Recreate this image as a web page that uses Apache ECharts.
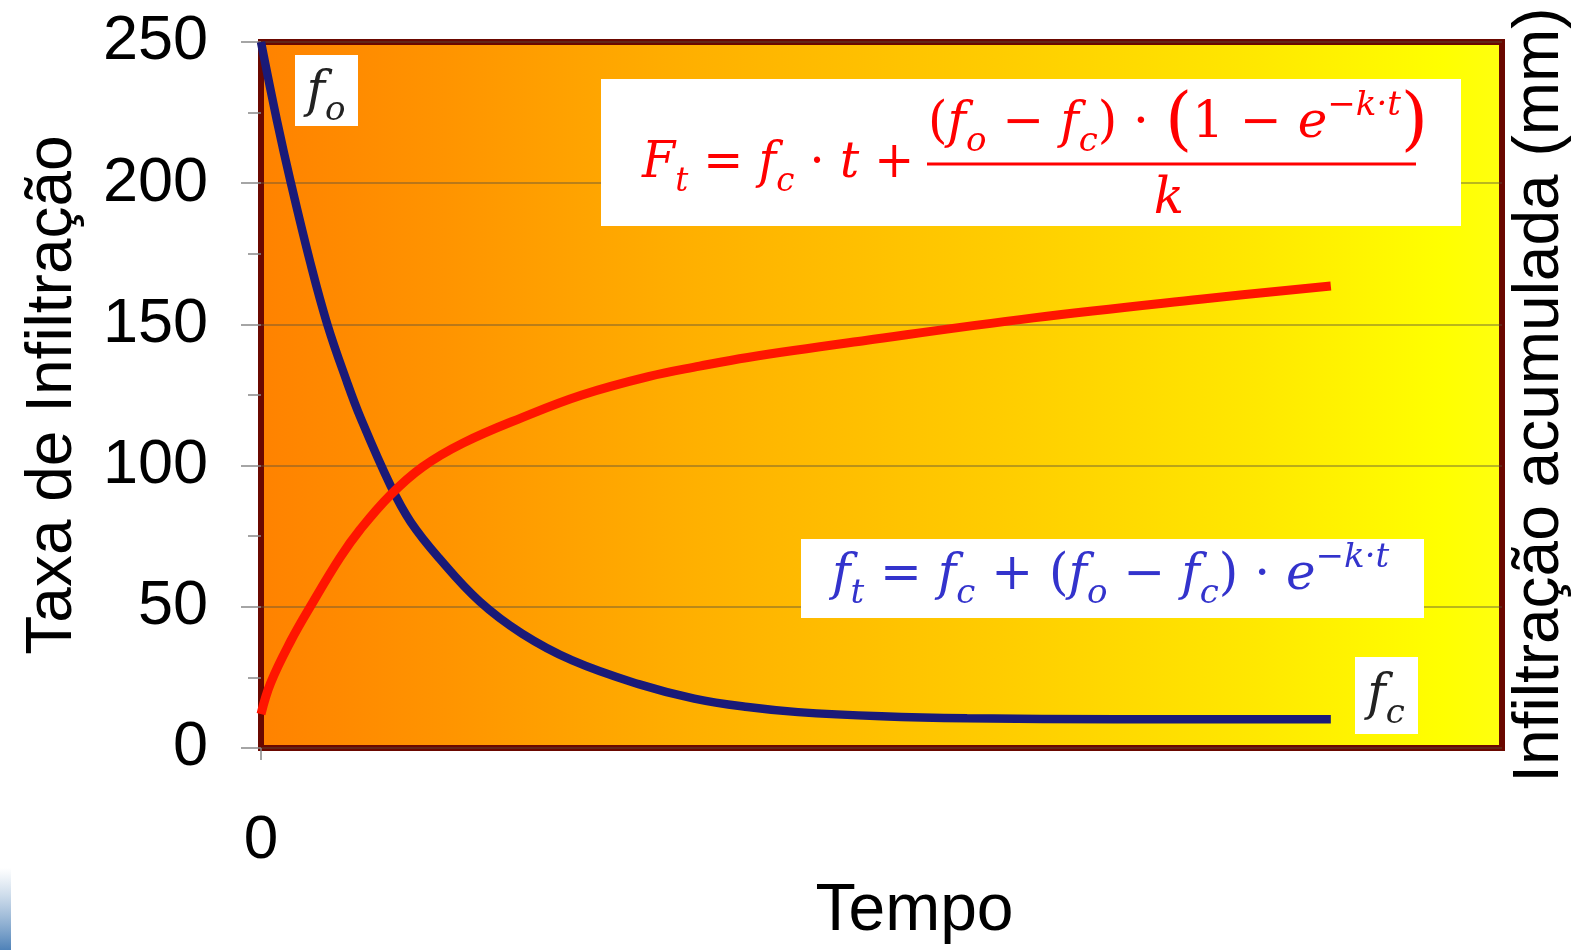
<!DOCTYPE html>
<html>
<head>
<meta charset="utf-8">
<title>Infiltração</title>
<script src="https://cdn.jsdelivr.net/npm/echarts@6/dist/echarts.min.js"></script>
<style>
  html, body { margin: 0; padding: 0; background: #fff; }
  #chart { width: 1580px; height: 950px; }
</style>
</head>
<body>
<div id="chart"></div>
<script>
// taxa de infiltração f(t) (curva azul)
var tempoTaxa = [0, 1.5, 2.8, 4.6, 6.2, 8, 9.3, 12.1, 14, 16.7, 20.4, 24.4, 29.1, 35.3, 40.5, 45.5, 50.2, 58, 66, 80, 100];
var taxa = [250, 222, 200, 172, 150, 130, 117, 93, 80, 67, 52, 40.5, 31, 22.6, 17.5, 14.5, 12.7, 11.2, 10.5, 10.2, 10.2];
// infiltração acumulada F(t) (curva vermelha)
var tempoAcum = [0, 0.9, 2.8, 4.6, 7.4, 9.3, 12.1, 15.1, 18.9, 24.4, 30, 36.2, 41, 45.5, 56.5, 72.2, 87.8, 100];
var acumulada = [12, 23, 38, 50, 67.5, 77.5, 89.6, 99.5, 108, 117, 125, 131.5, 135.2, 138.3, 144.3, 152.3, 158.9, 163.6];
var yTicks = [0, 50, 100, 150, 200, 250];

var chart = echarts.init(document.getElementById('chart'));

function pares(xs, ys) {
    return xs.map(function (x, i) { return [x, ys[i]]; });
}

var serif = "'DejaVu Serif', 'Liberation Serif', serif";
var mathRich = {
    v: { fontFamily: serif, fontStyle: 'italic', fontSize: 50, lineHeight: 70 },
    n: { fontFamily: serif, fontSize: 50, lineHeight: 70 },
    sb: { fontFamily: serif, fontStyle: 'italic', fontSize: 34, lineHeight: 34, verticalAlign: 'bottom' },
    sp: { fontFamily: serif, fontStyle: 'italic', fontSize: 34, lineHeight: 34, verticalAlign: 'top' },
    big: { fontFamily: serif, fontSize: 70, lineHeight: 70 }
};

function mathText(x, y, text, color, align, sx) {
    return {
        type: 'text', z: 110,
        x: x, y: y, scaleX: sx || 1,
        style: { x: 0, y: 0, text: text, fill: color, rich: mathRich, align: align || 'left', verticalAlign: 'top' }
    };
}

var fundo = new echarts.graphic.LinearGradient(0, 0, 1, 0, [
    { offset: 0, color: '#ff8200' },
    { offset: 0.15, color: '#ff9400' },
    { offset: 0.35, color: '#ffb000' },
    { offset: 0.6, color: '#ffcd00' },
    { offset: 0.8, color: '#ffe800' },
    { offset: 0.95, color: '#ffff00' },
    { offset: 1, color: '#ffff10' }
]);

var option = {
    backgroundColor: '#fff',
    animation: false,
    grid: {
        left: 261, right: 71, top: 42, bottom: 200,
        show: true,
        backgroundColor: fundo,
        borderColor: '#6a0800',
        borderWidth: 6
    },
    xAxis: {
        type: 'value',
        min: 0, max: 116,
        name: 'Tempo',
        nameLocation: 'middle',
        nameGap: 131,
        nameTextStyle: { fontFamily: 'Liberation Sans', fontSize: 66, color: '#000', padding: [0, 0, 0, 66] },
        axisLine: { show: false },
        splitLine: { show: false },
        axisTick: { show: true, customValues: [0], length: 12, lineStyle: { color: '#888', width: 1.5 } },
        axisLabel: { customValues: [0], margin: 62, fontFamily: 'Liberation Sans', fontSize: 62, color: '#000' }
    },
    yAxis: [{
        type: 'value',
        min: 0, max: 250, interval: 50,
        name: 'Taxa de Infiltração',
        nameLocation: 'middle',
        nameRotate: 90,
        nameGap: 176,
        nameTextStyle: { fontFamily: 'Liberation Sans', fontSize: 64, color: '#000' },
        axisLine: { show: false },
        axisTick: { show: true, length: 20, lineStyle: { color: '#888', width: 1.5 } },
        minorTick: { show: true, splitNumber: 2, length: 13, lineStyle: { color: '#888', width: 1.5 } },
        axisLabel: { margin: 53, fontFamily: 'Liberation Sans', fontSize: 63, color: '#000',
            formatter: function (v) { return yTicks.indexOf(v) >= 0 ? String(v) : ''; } },
        splitLine: { show: true, lineStyle: { color: 'rgba(90,80,60,0.55)', width: 1.5 } }
    }, {
        type: 'value',
        min: 0, max: 250, interval: 50,
        position: 'right',
        name: 'Infiltração acumulada (mm)',
        nameLocation: 'middle',
        nameRotate: 90,
        nameGap: 6,
        nameTextStyle: { fontFamily: 'Liberation Sans', fontSize: 64, color: '#000' },
        axisLine: { show: false },
        axisTick: { show: false },
        axisLabel: { show: false },
        splitLine: { show: false }
    }],
    series: [{
        name: 'f(t)',
        type: 'line',
        smooth: 0.4,
        showSymbol: false,
        data: pares(tempoTaxa, taxa),
        lineStyle: { color: '#1a1a78', width: 8.5 },
        z: 5
    }, {
        name: 'F(t)',
        type: 'line',
        yAxisIndex: 1,
        smooth: 0.4,
        showSymbol: false,
        data: pares(tempoAcum, acumulada),
        lineStyle: { color: '#ff1500', width: 9 },
        z: 6
    }],
    graphic: [
        // faixa azulada no canto inferior esquerdo
        { type: 'rect', z: 1, shape: { x: 0, y: 868, width: 11, height: 82 },
          style: { fill: new echarts.graphic.LinearGradient(0, 0, 0, 1, [
              { offset: 0, color: 'rgba(120,160,200,0)' }, { offset: 1, color: '#4f82b8' }]) } },
        // caixa da equação F
        { type: 'rect', z: 100, shape: { x: 601, y: 79, width: 860, height: 147 }, style: { fill: '#fff' } },
        mathText(642, 129, '{v|F}{sb|t}{n| = }{v|f}{sb|c}{n| · }{v|t}{n| +}', '#ff0000', 'left', 0.955),
        mathText(928, 89, '{n|(}{v|f}{sb|o}{n| − }{v|f}{sb|c}{n|) · }{big|(}{n|1 − }{v|e}{sp|−k·t}{big|)}', '#ff0000'),
        { type: 'line', z: 110, shape: { x1: 927, y1: 164, x2: 1416, y2: 164 }, style: { stroke: '#ff0000', lineWidth: 3 } },
        mathText(1169, 165, '{v|k}', '#ff0000', 'center'),
        // caixa da equação f
        { type: 'rect', z: 100, shape: { x: 801, y: 539, width: 623, height: 79 }, style: { fill: '#fff' } },
        mathText(832, 541, '{v|f}{sb|t}{n| = }{v|f}{sb|c}{n| + (}{v|f}{sb|o}{n| − }{v|f}{sb|c}{n|) · }{v|e}{sp|−k·t}', '#3333cc'),
        // rótulos fo e fc
        { type: 'rect', z: 100, shape: { x: 295, y: 55, width: 63, height: 71 }, style: { fill: '#fff' } },
        mathText(326, 58, '{v|f}{sb|o}', '#222', 'center'),
        { type: 'rect', z: 100, shape: { x: 1355, y: 657, width: 63, height: 77 }, style: { fill: '#fff' } },
        mathText(1386, 661, '{v|f}{sb|c}', '#222', 'center')
    ]
};

chart.setOption(option);
</script>
</body>
</html>
